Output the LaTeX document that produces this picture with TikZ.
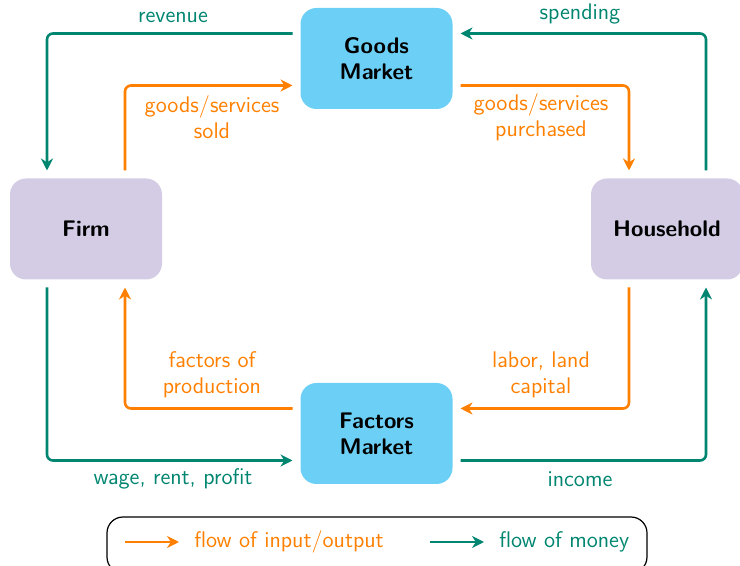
\documentclass[tikz,border=0pt]{standalone}
\usetikzlibrary{arrows.meta,positioning}
\definecolor{moneyc}{RGB}{0,134,112}
\definecolor{goodc}{RGB}{255,128,0}
\definecolor{marketc}{RGB}{108,207,246}
\definecolor{agentc}{RGB}{211,204,228}
\tikzset{
  basefont/.style={font=\sffamily\fontsize{11.3}{13}\selectfont},
  market/.style={fill=marketc, rounded corners=8pt, minimum width=76pt, minimum height=50.5pt,
    align=center, outer sep=4pt, font=\sffamily\bfseries\fontsize{11.3}{13}\selectfont},
  agent/.style={market, fill=agentc},
  money/.style={draw=moneyc, line width=1.3pt, rounded corners=3pt, -{Stealth[length=6pt,width=6pt]}},
  good/.style={draw=goodc, line width=1.3pt, rounded corners=3pt, -{Stealth[length=6pt,width=6pt]}},
  moneylbl/.style={basefont, text=moneyc, align=center, inner sep=0pt},
  goodlbl/.style={basefont, text=goodc, align=center, inner sep=0pt},
}
\begin{document}
\begin{tikzpicture}[x=0.5pt,y=-0.5pt]
\useasboundingbox (0,0) rectangle (740,566);

% markets and agents
\node[market] (goods) at (376.5,58.5) {Goods\\Market};
\node[market] (factors) at (376.5,433.5) {Factors\\Market};
\node[agent] (firm) at (86,229) {Firm};
\node[agent] (house) at (667,229) {Household};

% upper circuit
\draw[money] ([yshift=12.5pt]goods.west) -| ([xshift=-19.5pt]firm.north);
\draw[good] ([xshift=19.5pt]firm.north) |- ([yshift=-13.5pt]goods.west);
\draw[good] ([yshift=-13.5pt]goods.east) -| ([xshift=-19pt]house.north);
\draw[money] ([xshift=19.5pt]house.north) |- ([yshift=12.5pt]goods.east);

% lower circuit
\draw[good] ([yshift=12.5pt]factors.west) -| ([xshift=19.5pt]firm.south);
\draw[money] ([xshift=-19.5pt]firm.south) |- ([yshift=-13.5pt]factors.west);
\draw[good] ([xshift=-19pt]house.south) |- ([yshift=12.5pt]factors.east);
\draw[money] ([yshift=-13.5pt]factors.east) -| ([xshift=19.5pt]house.south);

% flow labels
\node[moneylbl] (lrev) at (173,17) {revenue};
\node[moneylbl] (lspend) at (580,14) {spending};
\node[goodlbl] (lsold) at (212,117.5) {goods/services\\sold};
\node[goodlbl] (lpurch) at (541,117.5) {goods/services\\purchased};
\node[goodlbl] (lfact) at (212,374.5) {factors of\\production};
\node[goodlbl] (llabor) at (541,374.5) {labor, land\\capital};
\node[moneylbl] (lwage) at (173,479) {wage, rent, profit};
\node[moneylbl] (lincome) at (580,479) {income};

% legend
\node[draw=black, line width=0.6pt, rounded corners=8pt, minimum width=270pt, minimum height=28pt] (legend) at (377,545) {};
\coordinate (g1) at (125,542);
\coordinate (g2) at (179,542);
\coordinate (m1) at (430,542);
\coordinate (m2) at (484,542);
\draw[good] (g1) -- (g2);
\draw[money] (m1) -- (m2);
\node[goodlbl, anchor=west] (lgood) at (194,542) {flow of input/output};
\node[moneylbl, anchor=west] (lmoney) at (499,542) {flow of money};
\end{tikzpicture}
\end{document}
